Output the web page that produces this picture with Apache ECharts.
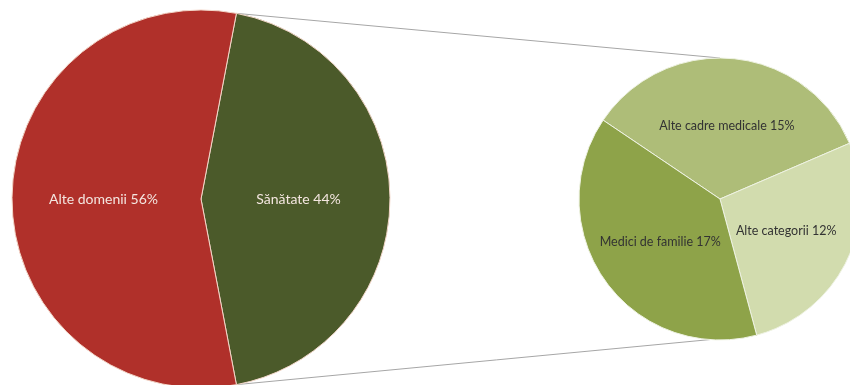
<!DOCTYPE html>
<html>
<head>
<meta charset="utf-8">
<style>
  html, body { margin: 0; padding: 0; background: #fff; }
  #main { width: 850px; height: 385px; }
</style>
<script src="https://cdn.jsdelivr.net/npm/echarts@6/dist/echarts.min.js"></script>
</head>
<body>
<div id="main"></div>
<script>
// primul grafic: total
var mainNames = ['Sănătate', 'Alte domenii'];
var mainValues = [44, 56];
var mainColors = ['#4b5a2a', '#b0302a'];

// al doilea grafic: detaliu Sănătate
var subNames = ['Alte cadre medicale', 'Alte categorii', 'Medici de familie'];
var subValues = [15, 12, 17];
var subColors = ['#aebd78', '#d2dcae', '#8ea349'];

var chart = echarts.init(document.getElementById('main'));

var leftC = [201, 199], leftR = 189;
var rightC = [720, 199], rightR = 141;
var subStart = 146;

var total = mainValues.reduce(function(a, b) { return a + b; }, 0);
var subTotal = subValues.reduce(function(a, b) { return a + b; }, 0);
var half = mainValues[0] / total * 180;

function pt(c, r, deg) {
    var a = deg * Math.PI / 180;
    return [c[0] + r * Math.cos(a), c[1] - r * Math.sin(a)];
}

// unghiul unde se termina "Alte categorii"
var endAng = subStart - 360 * (subValues[0] + subValues[1]) / subTotal;
var p1 = pt(leftC, leftR, half), p2 = pt(rightC, rightR, 90);
var p3 = pt(leftC, leftR, -half), p4 = pt(rightC, rightR, endAng);

var option = {
    animation: false,
    textStyle: { fontFamily: 'Lato' },
    graphic: [
        { type: 'line', z: 0, shape: { x1: p1[0], y1: p1[1], x2: p2[0], y2: p2[1] },
          style: { stroke: '#a6a6a6', lineWidth: 1 } },
        { type: 'line', z: 0, shape: { x1: p3[0], y1: p3[1], x2: p4[0], y2: p4[1] },
          style: { stroke: '#a6a6a6', lineWidth: 1 } }
    ],
    series: [
        {
            type: 'pie',
            center: leftC,
            radius: leftR,
            startAngle: half,
            clockwise: true,
            silent: true,
            itemStyle: { borderColor: '#f2d6c8', borderWidth: 1 },
            label: {
                position: 'inside',
                color: '#f4e6e0',
                fontSize: 14,
                formatter: function(p) { return p.name + ' ' + p.value + '%'; }
            },
            data: mainNames.map(function(n, i) {
                return { name: n, value: mainValues[i], itemStyle: { color: mainColors[i] } };
            })
        },
        {
            type: 'pie',
            center: rightC,
            radius: rightR,
            startAngle: subStart,
            clockwise: true,
            silent: true,
            itemStyle: { borderColor: '#eef2e2', borderWidth: 1 },
            label: {
                position: 'inside',
                color: '#333',
                fontSize: 12.5,
                formatter: function(p) { return p.name + ' ' + p.value + '%'; }
            },
            data: subNames.map(function(n, i) {
                return { name: n, value: subValues[i], itemStyle: { color: subColors[i] } };
            })
        }
    ]
};

chart.setOption(option);
window.addEventListener('resize', function() { chart.resize(); });
</script>
</body>
</html>
